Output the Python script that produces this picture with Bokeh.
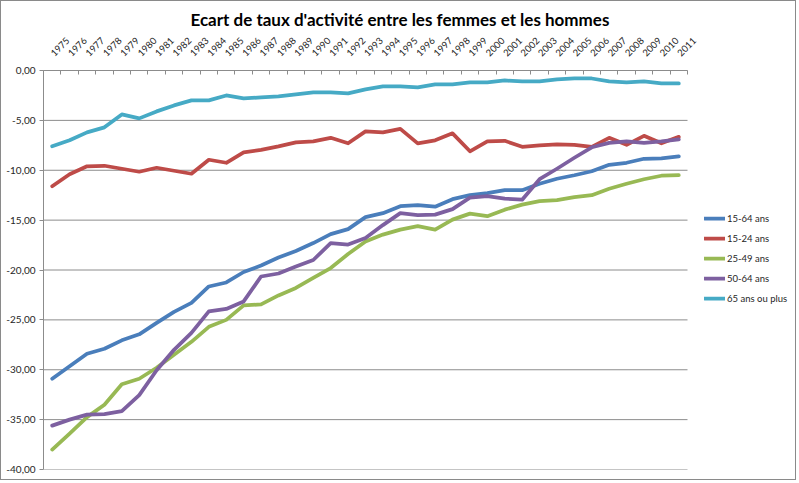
import math
from bokeh.plotting import figure
from bokeh.models import (Range1d, LinearAxis, FixedTicker, Legend, LegendItem, Title)
from bokeh.embed import file_html
from bokeh.resources import INLINE

# ---------------- data ----------------
years = list(range(1975, 2012))

s15_64 = [-30.9, -29.65, -28.4, -27.9, -27.05, -26.45, -25.3, -24.2, -23.3, -21.65,
          -21.25, -20.2, -19.55, -18.75, -18.1, -17.3, -16.4, -15.9, -14.7, -14.3,
          -13.6, -13.5, -13.65, -12.9, -12.5, -12.3, -12.0, -12.0, -11.35, -10.85,
          -10.5, -10.1, -9.45, -9.25, -8.85, -8.8, -8.6]
s15_24 = [-11.6, -10.4, -9.6, -9.55, -9.85, -10.15, -9.75, -10.05, -10.35, -8.95,
          -9.25, -8.2, -7.95, -7.6, -7.2, -7.1, -6.75, -7.3, -6.1, -6.2,
          -5.85, -7.3, -7.0, -6.3, -8.1, -7.1, -7.05, -7.65, -7.5, -7.4,
          -7.45, -7.65, -6.75, -7.45, -6.55, -7.3, -6.65]
s25_49 = [-38.0, -36.4, -34.75, -33.5, -31.45, -30.9, -29.8, -28.5, -27.2, -25.7,
          -25.0, -23.55, -23.45, -22.55, -21.8, -20.8, -19.8, -18.4, -17.15, -16.45,
          -15.95, -15.6, -15.95, -14.95, -14.35, -14.6, -13.95, -13.45, -13.1, -13.0,
          -12.7, -12.5, -11.85, -11.35, -10.9, -10.55, -10.5]
s50_64 = [-35.6, -35.0, -34.5, -34.45, -34.15, -32.55, -30.05, -28.0, -26.3, -24.15,
          -23.9, -23.15, -20.65, -20.35, -19.65, -19.0, -17.3, -17.45, -16.8, -15.5,
          -14.3, -14.5, -14.45, -13.9, -12.75, -12.6, -12.85, -12.95, -10.9, -9.85,
          -8.75, -7.7, -7.25, -7.1, -7.25, -7.1, -6.9]
s65 = [-7.6, -7.0, -6.2, -5.7, -4.4, -4.8, -4.1, -3.5, -3.0, -3.0,
       -2.5, -2.8, -2.7, -2.6, -2.4, -2.2, -2.2, -2.3, -1.9, -1.6,
       -1.6, -1.7, -1.4, -1.4, -1.2, -1.2, -1.0, -1.1, -1.1, -0.9,
       -0.8, -0.8, -1.1, -1.2, -1.1, -1.3, -1.3]

series_names = ["15-64 ans", "15-24 ans", "25-49 ans", "50-64 ans", "65 ans ou plus"]
series_values = [s15_64, s15_24, s25_49, s50_64, s65]
series_colors = ["#4A7EBB", "#BE4B48", "#98B954", "#7D60A0", "#46AAC5"]

y_ticks = [0, -5, -10, -15, -20, -25, -30, -35, -40]
y_tick_labels = ["0,00", "-5,00", "-10,00", "-15,00", "-20,00", "-25,00", "-30,00", "-35,00", "-40,00"]

title_text = "Ecart de taux d'activit\u00e9 entre les femmes et les hommes"

# ---------------- figure ----------------
FONT = "Lato"
GRID = "#8c8c8c"
TXT = "#262626"

idx = list(range(len(years)))
n = len(years)

W, H = 796, 480
ML, MR, MT, MB = 42, 2, 69, 12
FW = W - ML - MR
PLOT_W = 644            # pixel width of the category area inside the frame
x_lo, x_hi = -0.5, n - 0.5
x_end = x_lo + n * FW / PLOT_W   # leave room on the right for the legend

p = figure(width=W, height=H, output_backend="svg", toolbar_location=None,
           x_range=Range1d(x_lo, x_end), y_range=Range1d(min(y_ticks), max(y_ticks)),
           x_axis_location=None, y_axis_location="left",
           min_border_left=ML, min_border_right=MR, min_border_top=MT, min_border_bottom=MB)
p.outline_line_color = None
p.background_fill_color = "white"
p.border_fill_color = "white"
p.styles = {"border": "1px solid #8a8a8a"}

# y axis
ya = p.yaxis[0]
ya.ticker = FixedTicker(ticks=y_ticks)
ya.major_label_overrides = {t: l for t, l in zip(y_ticks, y_tick_labels)}
ya.axis_line_color = GRID
ya.major_tick_line_color = GRID
ya.major_tick_out = 4
ya.major_tick_in = 0
ya.minor_tick_line_color = None
ya.major_label_standoff = 4
ya.major_label_text_font = FONT
ya.major_label_text_font_size = "10px"
ya.major_label_text_color = TXT

p.ygrid.grid_line_color = None
p.xgrid.grid_line_color = None

# horizontal gridlines limited to the category area
p.segment(x0=x_lo, x1=x_hi, y0=y_ticks, y1=y_ticks, line_color=GRID, line_width=1)

# top axis: tick marks at category boundaries (no labels)
bounds = [i - 0.5 for i in range(n + 1)]
tick_axis = LinearAxis(ticker=FixedTicker(ticks=bounds), bounds=(x_lo, x_hi),
                       major_label_overrides={b: "" for b in bounds},
                       major_label_text_font_size="1px", major_label_standoff=0,
                       major_tick_in=4, major_tick_out=0,
                       major_tick_line_color=GRID, axis_line_color=GRID,
                       minor_tick_line_color=None)
p.add_layout(tick_axis, "above")

# top axis: year labels at category centres
label_axis = LinearAxis(ticker=FixedTicker(ticks=idx), bounds=(x_lo, x_hi),
                        major_label_overrides={i: str(y) for i, y in zip(idx, years)},
                        major_label_orientation=math.pi / 4,
                        major_label_standoff=10,
                        major_label_text_font=FONT, major_label_text_font_size="9.5px",
                        major_label_text_color=TXT,
                        axis_line_color=None, major_tick_line_color=None,
                        minor_tick_line_color=None)
p.add_layout(label_axis, "above")

# title
p.add_layout(Title(text=title_text, align="left", offset=147, standoff=1,
                   text_font=FONT, text_font_style="bold", text_font_size="17px",
                   text_color="#000000"), "above")

# lines
items = []
for name, vals, col in zip(series_names, series_values, series_colors):
    r = p.line(x=idx, y=vals, line_color=col, line_width=3.75,
               line_join="round", line_cap="round")
    items.append(LegendItem(label=name, renderers=[r]))

legend = Legend(items=items, location=(661, 161), orientation="vertical",
                glyph_width=21, glyph_height=20, label_height=20, label_standoff=2,
                spacing=0, padding=0, margin=0,
                label_text_font=FONT, label_text_font_size="9.5px", label_text_color=TXT,
                border_line_color=None, background_fill_alpha=0)
p.add_layout(legend)

open("out.html", "w").write(file_html(p, INLINE))
